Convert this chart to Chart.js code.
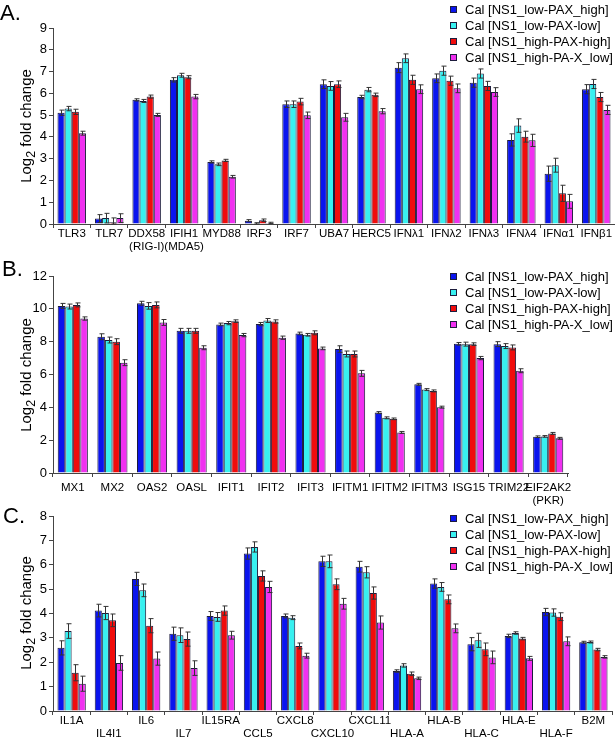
<!DOCTYPE html>
<html>
<head>
<meta charset="utf-8">
<script src="https://cdn.jsdelivr.net/npm/chart.js@4"></script>
<style>
  body { margin: 0; background: #fff; font-family: "Liberation Sans", Arial, sans-serif; }
  #wrap { position: relative; width: 615px; height: 739px; overflow: hidden; }
  canvas { position: absolute; left: 0; }
  .tag { position: absolute; font-size: 22px; line-height: 22px; }
  .ytitle { position: absolute; font-size: 15px; white-space: nowrap; transform: translate(-50%, -50%) rotate(-90deg); }
  .legend { position: absolute; font-size: 13px; }
  .legend div { height: 16px; line-height: 16px; white-space: nowrap; }
  .legend span.sw { display: inline-block; width: 5px; height: 5px; border: 1px solid #1c1c3c; margin-right: 8px; vertical-align: middle; position: relative; top: -1px; }
</style>
</head>
<body>
<div id="wrap">
  <canvas id="chartA" width="615" height="262" style="top:0px"></canvas>
  <canvas id="chartB" width="615" height="265" style="top:250px"></canvas>
  <canvas id="chartC" width="615" height="242" style="top:497px"></canvas>

  <div class="tag" style="left:0px;top:2px">A.</div>
  <div class="tag" style="left:2px;top:258px">B.</div>
  <div class="tag" style="left:3px;top:505px">C.</div>

  <div class="ytitle" style="left:27px;top:126px">Log<sub>2</sub> fold change</div>
  <div class="ytitle" style="left:27px;top:375px">Log<sub>2</sub> fold change</div>
  <div class="ytitle" style="left:27px;top:613px">Log<sub>2</sub> fold change</div>

  <div class="legend" id="legendA" style="left:450px;top:2px"></div>
  <div class="legend" id="legendB" style="left:450px;top:269px"></div>
  <div class="legend" id="legendC" style="left:450px;top:511px"></div>
</div>

<script>
// series names and colours
const seriesNames = ['Cal [NS1_low-PAX_high]', 'Cal [NS1_low-PAX-low]', 'Cal [NS1_high-PAX-high]', 'Cal [NS1_high-PA-X_low]'];
const seriesColors = ['#0a14ee', '#38f0f0', '#f00c0c', '#f030f0'];

// panel A
const labelsA = ['TLR3', 'TLR7', ['DDX58', '(RIG-I)'], ['IFIH1', '(MDA5)'], 'MYD88', 'IRF3', 'IRF7', 'UBA7', 'HERC5',
  'IFNλ1', 'IFNλ2', 'IFNλ3', 'IFNλ4', 'IFNα1', 'IFNβ1'];
const aLowHigh  = [5.11, 0.25, 5.70, 6.62, 2.85, 0.15, 5.50, 6.42, 5.83, 7.18, 6.69, 6.49, 3.86, 2.31, 6.19];
const aLowLow   = [5.30, 0.27, 5.65, 6.83, 2.74, 0.03, 5.50, 6.34, 6.17, 7.61, 7.04, 6.91, 4.52, 2.70, 6.43];
const aHighHigh = [5.15, 0.08, 5.85, 6.74, 2.92, 0.17, 5.62, 6.42, 5.93, 6.62, 6.58, 6.34, 4.01, 1.41, 5.83];
const aHighLow  = [4.17, 0.27, 5.01, 5.85, 2.17, 0.05, 4.99, 4.90, 5.18, 6.19, 6.23, 6.06, 3.84, 1.04, 5.24];
const aLowHighErr  = [0.12, 0.18, 0.05, 0.10, 0.05, 0.05, 0.15, 0.20, 0.08, 0.23, 0.20, 0.21, 0.28, 0.35, 0.21];
const aLowLowErr   = [0.10, 0.22, 0.07, 0.09, 0.06, 0.03, 0.15, 0.20, 0.10, 0.20, 0.21, 0.21, 0.31, 0.32, 0.21];
const aHighHighErr = [0.12, 0.20, 0.07, 0.07, 0.05, 0.06, 0.15, 0.15, 0.08, 0.21, 0.21, 0.21, 0.25, 0.37, 0.21];
const aHighLowErr  = [0.09, 0.20, 0.07, 0.10, 0.06, 0.03, 0.15, 0.18, 0.12, 0.20, 0.20, 0.20, 0.28, 0.32, 0.21];

// panel B
const labelsB = ['MX1', 'MX2', 'OAS2', 'OASL', 'IFIT1', 'IFIT2', 'IFIT3', 'IFITM1', 'IFITM2', 'IFITM3', 'ISG15', 'TRIM22', ['EIF2AK2', '(PKR)']];
const bLowHigh  = [10.18, 8.30, 10.34, 8.66, 9.05, 9.07, 8.50, 7.55, 3.68, 5.40, 7.87, 7.85, 2.21];
const bLowLow   = [10.14, 8.10, 10.18, 8.66, 9.13, 9.29, 8.42, 7.25, 3.36, 5.08, 7.85, 7.73, 2.23];
const bHighHigh = [10.24, 8.00, 10.24, 8.66, 9.25, 9.23, 8.54, 7.25, 3.30, 5.00, 7.85, 7.65, 2.41];
const bHighLow  = [9.41, 6.72, 9.17, 7.63, 8.40, 8.24, 7.59, 6.07, 2.47, 4.01, 7.00, 6.23, 2.11];
const bLowHighErr  = [0.15, 0.18, 0.12, 0.15, 0.08, 0.10, 0.08, 0.20, 0.06, 0.06, 0.08, 0.15, 0.05];
const bLowLowErr   = [0.15, 0.18, 0.20, 0.15, 0.10, 0.12, 0.08, 0.18, 0.06, 0.06, 0.12, 0.15, 0.05];
const bHighHighErr = [0.12, 0.18, 0.18, 0.15, 0.08, 0.10, 0.12, 0.18, 0.05, 0.06, 0.08, 0.15, 0.06];
const bHighLowErr  = [0.10, 0.18, 0.18, 0.12, 0.10, 0.10, 0.08, 0.18, 0.06, 0.06, 0.10, 0.12, 0.06];

// panel C (labels alternate between two rows)
const labelsC = [['IL1A', ''], ['', 'IL4I1'], ['IL6', ''], ['', 'IL7'], ['IL15RA', ''], ['', 'CCL5'], ['CXCL8', ''], ['', 'CXCL10'],
  ['CXCL11', ''], ['', 'HLA-A'], ['HLA-B', ''], ['', 'HLA-C'], ['HLA-E', ''], ['', 'HLA-F'], ['B2M', '']];
const cLowHigh  = [2.59, 4.12, 5.42, 3.17, 3.90, 6.46, 3.90, 6.14, 5.92, 1.64, 5.23, 2.74, 3.08, 4.06, 2.82];
const cLowLow   = [3.28, 4.02, 4.95, 3.11, 3.86, 6.73, 3.83, 6.14, 5.69, 1.87, 5.09, 2.90, 3.20, 4.04, 2.83];
const cHighHigh = [1.57, 3.72, 3.50, 2.95, 4.12, 5.54, 2.67, 5.20, 4.84, 1.53, 4.58, 2.53, 2.97, 3.87, 2.52];
const cHighLow  = [1.12, 1.97, 2.15, 1.76, 3.11, 5.09, 2.27, 4.40, 3.63, 1.34, 3.39, 2.20, 2.16, 2.86, 2.22];
const cLowHighErr  = [0.29, 0.26, 0.27, 0.27, 0.18, 0.23, 0.08, 0.21, 0.22, 0.05, 0.19, 0.27, 0.07, 0.15, 0.04];
const cLowLowErr   = [0.30, 0.27, 0.26, 0.30, 0.18, 0.21, 0.08, 0.26, 0.23, 0.07, 0.18, 0.29, 0.05, 0.15, 0.04];
const cHighHighErr = [0.33, 0.26, 0.29, 0.29, 0.19, 0.21, 0.12, 0.22, 0.25, 0.07, 0.18, 0.26, 0.05, 0.16, 0.05];
const cHighLowErr  = [0.31, 0.30, 0.27, 0.30, 0.16, 0.23, 0.10, 0.22, 0.27, 0.05, 0.18, 0.26, 0.08, 0.18, 0.05];

const FONT = '"Liberation Sans", Arial, sans-serif';
Chart.defaults.font.family = FONT;
Chart.defaults.color = '#000';

// draws the +/- error bars on top of every bar
const errorBars = {
  id: 'errorBars',
  afterDatasetsDraw(chart) {
    const ctx = chart.ctx;
    const y = chart.scales.y;
    ctx.save();
    ctx.strokeStyle = '#333';
    ctx.lineWidth = 1;
    chart.data.datasets.forEach((ds, i) => {
      const meta = chart.getDatasetMeta(i);
      meta.data.forEach((bar, j) => {
        const v = ds.data[j], e = ds.errors[j];
        const x = Math.round(bar.x) + 0.5;
        const top = y.getPixelForValue(v + e);
        const bot = y.getPixelForValue(Math.max(v - e, 0));
        ctx.beginPath();
        ctx.moveTo(x, top); ctx.lineTo(x, bot);
        ctx.moveTo(x - 2, top); ctx.lineTo(x + 3, top);
        ctx.moveTo(x - 2, bot); ctx.lineTo(x + 3, bot);
        ctx.stroke();
      });
    });
    ctx.restore();
  }
};

function makePanel(id, labels, values, errors, yMax, step, topPad, rightPad, axisHeight, tickPad) {
  const datasets = values.map((vals, i) => ({
    label: seriesNames[i],
    data: vals,
    errors: errors[i],
    backgroundColor: seriesColors[i],
    borderColor: '#1c1c3c',
    borderWidth: 1,
    barPercentage: 1,
    categoryPercentage: 0.76
  }));
  new Chart(document.getElementById(id), {
    type: 'bar',
    data: { labels: labels, datasets: datasets },
    plugins: [errorBars],
    options: {
      responsive: false,
      animation: false,
      layout: { padding: { top: topPad, right: rightPad, left: 0, bottom: 0 } },
      plugins: { legend: { display: false }, tooltip: { enabled: false } },
      scales: {
        x: {
          grid: { offset: true, drawOnChartArea: false, drawTicks: true, tickLength: 4, color: '#444' },
          border: { color: '#444' },
          ticks: { maxRotation: 0, minRotation: 0, autoSkip: false, padding: tickPad, font: { size: 11.5, lineHeight: 1.18 } },
          afterFit(s) { s.height = axisHeight; }
        },
        y: {
          min: 0, max: yMax,
          grid: { drawOnChartArea: false, drawTicks: true, tickLength: 4, color: '#444' },
          border: { color: '#444' },
          ticks: { stepSize: step, padding: 2, font: { size: 13 } },
          afterFit(s) { s.width = 53; }
        }
      }
    }
  });
}

function makeLegend(id) {
  const box = document.getElementById(id);
  seriesNames.forEach((name, i) => {
    const row = document.createElement('div');
    const sw = document.createElement('span');
    sw.className = 'sw';
    sw.style.background = seriesColors[i];
    row.appendChild(sw);
    row.appendChild(document.createTextNode(name));
    box.appendChild(row);
  });
}

makePanel('chartA', labelsA, [aLowHigh, aLowLow, aHighHigh, aHighLow],
  [aLowHighErr, aLowLowErr, aHighHighErr, aHighLowErr], 9, 1, 28, 0, 38, -1.3);
makePanel('chartB', labelsB, [bLowHigh, bLowLow, bHighHigh, bHighLow],
  [bLowHighErr, bLowLowErr, bHighHighErr, bHighLowErr], 12, 2, 26, 47, 42, 3.7);
makePanel('chartC', labelsC, [cLowHigh, cLowLow, cHighHigh, cHighLow],
  [cLowHighErr, cLowLowErr, cHighHighErr, cHighLowErr], 8, 1, 19, 3, 28, -1.3);

makeLegend('legendA');
makeLegend('legendB');
makeLegend('legendC');
</script>
</body>
</html>
